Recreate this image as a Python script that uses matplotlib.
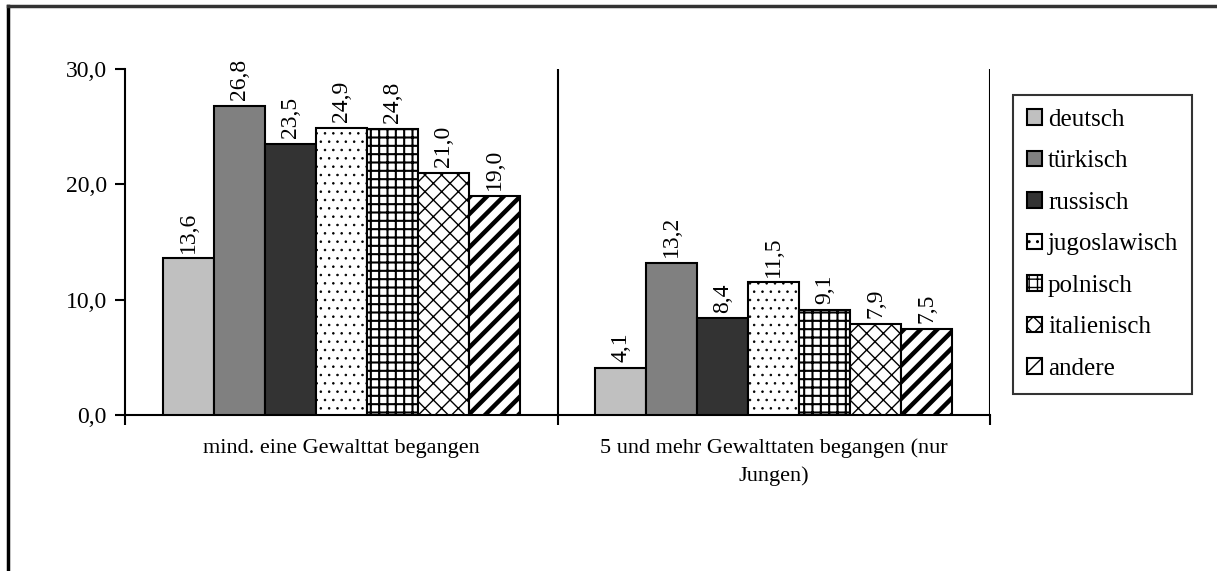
import numpy as np
import matplotlib
matplotlib.use("Agg")
import matplotlib.pyplot as plt
from matplotlib.patches import Rectangle
from matplotlib.lines import Line2D

plt.rcParams["font.family"] = ["Liberation Serif", "DejaVu Serif"]
plt.rcParams["hatch.color"] = "black"

categories = ["mind. eine Gewalttat begangen",
              "5 und mehr Gewalttaten begangen (nur\nJungen)"]
groups = ["deutsch", "türkisch", "russisch", "jugoslawisch", "polnisch", "italienisch", "andere"]
values = {
    "deutsch": [13.6, 4.1],
    "türkisch": [26.8, 13.2],
    "russisch": [23.5, 8.4],
    "jugoslawisch": [24.9, 11.5],
    "polnisch": [24.8, 9.1],
    "italienisch": [21.0, 7.9],
    "andere": [19.0, 7.5],
}
yticks = [0, 10, 20, 30]
yticklabels = ["0,0", "10,0", "20,0", "30,0"]

STYLE = {
    "deutsch": dict(color="#c0c0c0", hatch=None, hlw=1.0),
    "türkisch": dict(color="#808080", hatch=None, hlw=1.0),
    "russisch": dict(color="#333333", hatch=None, hlw=1.0),
    "jugoslawisch": dict(color="white", hatch="..", hlw=0.6),
    "polnisch": dict(color="white", hatch="++", hlw=1.5),
    "italienisch": dict(color="white", hatch="xx", hlw=1.0),
    "andere": dict(color="white", hatch="//", hlw=3.2),
}

fig = plt.figure(figsize=(12.17, 5.71), dpi=100)
ax = fig.add_axes([125 / 1217, 1 - 415 / 571, 865 / 1217, 346 / 571])

FS = 17
n = len(groups)
width = 0.118
x = np.arange(len(categories)) + 0.5
for i, g in enumerate(groups):
    pos = x + (i - (n - 1) / 2) * width
    st = STYLE[g]
    plt.rcParams["hatch.linewidth"] = st["hlw"]
    bars = ax.bar(pos, values[g], width, color=st["color"], hatch=st["hatch"],
                  edgecolor="black", linewidth=1.5, zorder=3)
    for b, v in zip(bars, values[g]):
        ax.annotate(f"{v:.1f}".replace(".", ","), (b.get_x() + b.get_width() / 2, v),
                    xytext=(0, 4), textcoords="offset points", rotation=90,
                    ha="center", va="bottom", fontsize=FS)

ax.set_xlim(0, 2)
ax.set_ylim(0, 30)
ax.set_yticks(yticks)
ax.set_yticklabels(yticklabels, fontsize=FS)
ax.set_xticks([0, 1, 2])
ax.set_xticklabels([])
ax.set_xticks(x, minor=True)
ax.set_xticklabels(categories, minor=True, fontsize=16, linespacing=1.55)
ax.tick_params(axis="x", which="minor", length=0, pad=17)
ax.tick_params(axis="x", which="major", direction="out", length=7, width=1.5)
ax.tick_params(axis="y", direction="out", length=7, width=1.5, pad=6)
ax.axvline(1, color="black", lw=1.5, zorder=2)
ax.axvline(2, color="black", lw=1.5, zorder=2)
for s in ("top", "right"):
    ax.spines[s].set_visible(False)
for s in ("left", "bottom"):
    ax.spines[s].set_linewidth(1.5)

handles = []
for g in groups:
    st = STYLE[g]
    handles.append(Rectangle((0, 0), 1, 1, facecolor=st["color"], hatch=st["hatch"],
                             edgecolor="black", linewidth=1.5))
plt.rcParams["hatch.linewidth"] = 1.0
leg = fig.legend(handles, groups, loc="upper left", bbox_to_anchor=(1013 / 1217, 1 - 95 / 571),
                 frameon=True, fancybox=False, edgecolor="black", fontsize=18,
                 handlelength=0.6, handleheight=0.6, handletextpad=0.25,
                 labelspacing=0.78, borderpad=0.55, borderaxespad=0)
leg.get_frame().set_linewidth(1.5)

# outer chart frame (left and top edges visible)
fig.add_artist(Line2D([8 / 1217, 8 / 1217], [0, 1 - 6 / 571], color="black", lw=2.5))
fig.add_artist(Line2D([8 / 1217, 1], [1 - 6 / 571, 1 - 6 / 571], color="#333333", lw=2.5))

fig.savefig("out.png", dpi=100)
